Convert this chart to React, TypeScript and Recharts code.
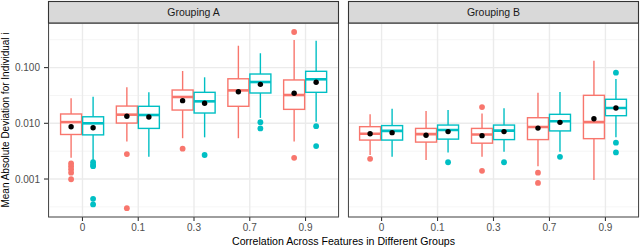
import React from 'react';
import { BarChart, Bar, XAxis, YAxis, CartesianGrid } from 'recharts';

// categories and axis ticks
const correlations = ['0', '0.1', '0.3', '0.7', '0.9'];
const yTicks = [0.001, 0.01, 0.1];
const yMinor = [0.000316, 0.00316, 0.0316, 0.316];

// box stats: [lower whisker, q1, median, q3, upper whisker]
type Stat = [number, number, number, number, number];

const aRedStats: Stat[] = [
  [0.0024, 0.0063, 0.0105, 0.0147, 0.0281],
  [0.0047, 0.0101, 0.0143, 0.0204, 0.0443],
  [0.0054, 0.0173, 0.0297, 0.0396, 0.087],
  [0.0054, 0.0202, 0.039, 0.063, 0.247],
  [0.0047, 0.0178, 0.0322, 0.06, 0.313],
];
const aRedMeans = [0.0087, 0.0134, 0.0255, 0.0369, 0.0346];
const aRedOutliers = [
  [0.0019, 0.0017, 0.0015, 0.0013, 0.00099],
  [0.0028, 0.0003],
  [0.0035],
  [],
  [0.436, 0.0024],
];

const aCyanStats: Stat[] = [
  [0.0022, 0.0062, 0.01, 0.0131, 0.03],
  [0.0025, 0.0081, 0.0141, 0.0202, 0.036],
  [0.0056, 0.0153, 0.0248, 0.036, 0.067],
  [0.0125, 0.035, 0.0551, 0.0767, 0.181],
  [0.0107, 0.036, 0.0617, 0.0858, 0.304],
];
const aCyanMeans = [0.0083, 0.013, 0.0229, 0.05, 0.0545];
const aCyanOutliers = [
  [0.002, 0.0018, 0.0017, 0.00044, 0.00035],
  [],
  [0.0027],
  [0.0105, 0.0081],
  [0.0089, 0.0039],
];

const bRedStats: Stat[] = [
  [0.0027, 0.005, 0.0065, 0.0087, 0.0145],
  [0.0022, 0.0046, 0.0064, 0.0081, 0.0166],
  [0.0025, 0.0044, 0.0063, 0.0081, 0.015],
  [0.0017, 0.0051, 0.0086, 0.0126, 0.0354],
  [0.00096, 0.0053, 0.0105, 0.0318, 0.133],
];
const bRedMeans = [0.0065, 0.0061, 0.006, 0.0082, 0.0121];
const bRedOutliers = [[0.0023], [], [0.0196, 0.0014], [0.0013, 0.00085], []];

const bCyanStats: Stat[] = [
  [0.0025, 0.005, 0.0073, 0.0091, 0.0183],
  [0.003, 0.0052, 0.0076, 0.0093, 0.0173],
  [0.0031, 0.0051, 0.0074, 0.0093, 0.0186],
  [0.0031, 0.0073, 0.0109, 0.0145, 0.0365],
  [0.0056, 0.0137, 0.0188, 0.027, 0.0624],
];
const bCyanMeans = [0.0068, 0.0071, 0.0071, 0.0104, 0.0188];
const bCyanOutliers = [[], [0.002], [0.002], [0.0025], [0.081, 0.0045, 0.003]];

const RED = '#F8766D';
const CYAN = '#00BFC4';
const FONT = '"Liberation Sans", Arial, Helvetica, sans-serif';
const Y_DOMAIN = [0.000208, 0.632];

type Group = { stat: Stat; mean: number; out: number[] };
type Row = { cat: string; red: Group; cyan: Group };

function buildRows(rs: Stat[], rm: number[], ro: number[][], cs: Stat[], cm: number[], co: number[][]): Row[] {
  return correlations.map((cat, i) => ({
    cat,
    red: { stat: rs[i], mean: rm[i], out: ro[i] },
    cyan: { stat: cs[i], mean: cm[i], out: co[i] },
  }));
}

const rowsA = buildRows(aRedStats, aRedMeans, aRedOutliers, aCyanStats, aCyanMeans, aCyanOutliers);
const rowsB = buildRows(bRedStats, bRedMeans, bRedOutliers, bCyanStats, bCyanMeans, bCyanOutliers);

const LAYERS = ['whisker', 'box', 'median', 'out0', 'out1', 'out2', 'out3', 'out4', 'mean'];

function valueFor(layer: string, g: Group): [number, number] | null {
  const [lo, q1, med, q3, hi] = g.stat;
  if (layer === 'whisker') return [lo, hi];
  if (layer === 'box') return [q1, q3];
  if (layer === 'median') return [med, med];
  if (layer === 'mean') return [g.mean, g.mean];
  const o = g.out[Number(layer.slice(3))];
  return o == null ? null : [o, o];
}

const makeShape = (layer: string, key: 'red' | 'cyan', color: string) => (props: any) => {
  const { x, y, width, height, payload } = props;
  if (!payload || valueFor(layer, payload[key]) == null || !Number.isFinite(y)) return <g />;
  const top = Math.min(y, y + height);
  const h = Math.abs(height);
  const cx = x + width / 2;
  if (layer === 'whisker')
    return <line x1={cx} x2={cx} y1={top} y2={top + h} stroke={color} strokeWidth={1.4} />;
  if (layer === 'box')
    return <rect x={x} y={top} width={width} height={h} fill="#fff" stroke={color} strokeWidth={1.4} />;
  if (layer === 'median')
    return <line x1={x} x2={x + width} y1={top} y2={top} stroke={color} strokeWidth={2.6} />;
  if (layer === 'mean') return <circle cx={cx} cy={top} r={2.7} fill="#000" />;
  return <circle cx={cx} cy={top} r={2.9} fill={color} />;
};

function Panel({ rows, width, left, showY }: { rows: Row[]; width: number; left: number; showY: boolean }) {
  return (
    <div style={{ position: 'absolute', left, top: 0 }}>
      <BarChart
        width={width}
        height={247}
        data={rows}
        margin={{ top: 23, right: 1, bottom: 0, left: showY ? 0 : 8 }}
        barSize={21}
        barGap={1}
      >
        <CartesianGrid xAxisId="whisker" vertical={false} horizontalValues={yMinor} stroke="#F2F2F2" strokeWidth={0.8} />
        <CartesianGrid xAxisId="whisker" stroke="#EBEBEB" strokeWidth={1.4} />
        {LAYERS.map((layer) => (
          <XAxis
            key={layer}
            xAxisId={layer}
            dataKey="cat"
            hide={layer !== 'whisker'}
            height={layer === 'whisker' ? 30 : 0}
            padding={{ left: 5.6, right: 5.6 }}
            axisLine={false}
            tickSize={4}
            tickMargin={3}
            tickLine={{ stroke: '#333', strokeWidth: 1.1 }}
            tick={{ fill: '#4D4D4D', fontSize: 10, fontFamily: FONT }}
            interval={0}
          />
        ))}
        <YAxis
          scale="log"
          domain={Y_DOMAIN}
          allowDataOverflow
          ticks={yTicks}
          tickFormatter={(v: number) => v.toFixed(3)}
          width={showY ? 49 : 0}
          hide={!showY}
          axisLine={false}
          tickSize={5}
          tickMargin={4}
          tickLine={{ stroke: '#333', strokeWidth: 1.1 }}
          tick={{ fill: '#4D4D4D', fontSize: 10, fontFamily: FONT }}
        />
        {LAYERS.flatMap((layer) =>
          (['red', 'cyan'] as const).map((key) => (
            <Bar
              key={layer + key}
              xAxisId={layer}
              dataKey={(r: Row) => valueFor(layer, r[key])}
              shape={makeShape(layer, key, key === 'red' ? RED : CYAN)}
              isAnimationActive={false}
            />
          ))
        )}
      </BarChart>
    </div>
  );
}

export default function App() {
  return (
    <div style={{ position: 'absolute', left: 0, top: 0, width: 640, height: 247, background: '#fff', fontFamily: FONT }}>
      <Panel rows={rowsA} width={340} left={0} showY />
      <Panel rows={rowsB} width={300} left={340} showY={false} />
      <svg width={640} height={247} style={{ position: 'absolute', left: 0, top: 0, pointerEvents: 'none' }}>
        <rect x={48.5} y={23} width={290} height={194} fill="none" stroke="#4D4D4D" strokeWidth={1} />
        <rect x={348.5} y={23} width={290} height={194} fill="none" stroke="#4D4D4D" strokeWidth={1} />
        <rect x={48.5} y={1.5} width={290} height={21.5} fill="#D9D9D9" stroke="#333" strokeWidth={1.1} />
        <rect x={348.5} y={1.5} width={290} height={21.5} fill="#D9D9D9" stroke="#333" strokeWidth={1.1} />
        <text x={193.5} y={16} textAnchor="middle" fontSize={10.5} fill="#1A1A1A" fontFamily={FONT}>Grouping A</text>
        <text x={493.5} y={16} textAnchor="middle" fontSize={10.5} fill="#1A1A1A" fontFamily={FONT}>Grouping B</text>
        <text x={343.5} y={244.5} textAnchor="middle" fontSize={10.6} fill="#000" fontFamily={FONT}>
          Correlation Across Features in Different Groups
        </text>
        <text transform="translate(8.5,120) rotate(-90)" textAnchor="middle" fontSize={10} fill="#000" fontFamily={FONT}>
          Mean Absolute Deviation for Individual i
        </text>
      </svg>
    </div>
  );
}
